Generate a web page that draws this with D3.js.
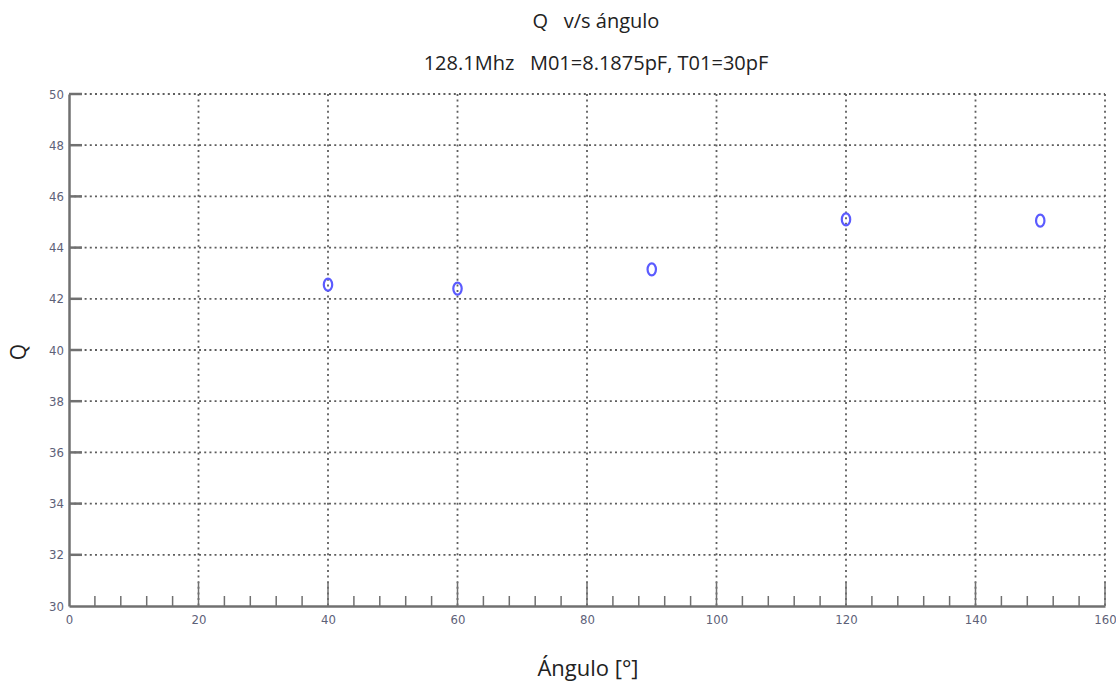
<!DOCTYPE html>
<html>
<head>
<meta charset="utf-8">
<script src="https://cdn.jsdelivr.net/npm/d3@7"></script>
<style>
  body { margin: 0; background: #fff; }
  svg { display: block; }
</style>
</head>
<body>
<div id="chart"></div>
<script>
// Q measured at each angle
var angles = [40, 60, 90, 120, 150];
var qValues = [42.55, 42.4, 43.15, 45.1, 45.05];

var xTicks = [0, 20, 40, 60, 80, 100, 120, 140, 160];
var yTicks = [30, 32, 34, 36, 38, 40, 42, 44, 46, 48, 50];
var xMinor = d3.range(0, 161, 4);

var svgWidth = 1116, svgHeight = 683;
var margin = {top: 94, right: 11, bottom: 77, left: 69};

var svg = d3.select("#chart").append("svg")
  .attr("width", svgWidth)
  .attr("height", svgHeight);

var xscale = d3.scaleLinear()
  .domain([0, 160])
  .range([margin.left, svgWidth - margin.right]);
var yscale = d3.scaleLinear()
  .domain([30, 50])
  .range([svgHeight - margin.bottom, margin.top]);

var x0 = xscale(0), y0 = yscale(30);
var gridColor = "#5e5e5e";
var tickFont = "'DejaVu Sans Condensed', 'Liberation Sans Narrow', sans-serif";

// dotted grid
svg.append("g").selectAll("line")
  .data(yTicks.slice(1))
  .enter().append("line")
  .attr("x1", x0).attr("x2", xscale(160))
  .attr("y1", d => yscale(d)).attr("y2", d => yscale(d))
  .attr("stroke", gridColor).attr("stroke-width", 1.8)
  .attr("stroke-dasharray", "2,3.2");
svg.append("g").selectAll("line")
  .data(xTicks.slice(1))
  .enter().append("line")
  .attr("x1", d => xscale(d)).attr("x2", d => xscale(d))
  .attr("y1", yscale(50)).attr("y2", y0)
  .attr("stroke", gridColor).attr("stroke-width", 1.8)
  .attr("stroke-dasharray", "2,3.6");

// bottom axis: minor + major ticks pointing up
var xAxis = d3.axisBottom(xscale).tickValues(xTicks).tickSize(0).tickPadding(9);
var gx = svg.append("g")
  .attr("transform", "translate(0," + y0 + ")")
  .call(xAxis);
gx.select(".domain").attr("stroke", "#707070").attr("stroke-width", 2.5);
gx.selectAll("text")
  .attr("fill", "#5d6178")
  .style("font-family", tickFont)
  .style("font-size", "13px");

svg.append("g").selectAll("line")
  .data(xMinor.filter(d => d % 20 !== 0))
  .enter().append("line")
  .attr("x1", d => xscale(d)).attr("x2", d => xscale(d))
  .attr("y1", y0).attr("y2", y0 - 10)
  .attr("stroke", "#707070").attr("stroke-width", 1.5);
svg.append("g").selectAll("line")
  .data(xTicks.slice(1))
  .enter().append("line")
  .attr("x1", d => xscale(d)).attr("x2", d => xscale(d))
  .attr("y1", y0).attr("y2", y0 - 24)
  .attr("stroke", "#707070").attr("stroke-width", 1.5);

// left axis
var yAxis = d3.axisLeft(yscale).tickValues(yTicks).tickSize(0).tickPadding(5);
var gy = svg.append("g")
  .attr("transform", "translate(" + x0 + ",0)")
  .call(yAxis);
gy.select(".domain").attr("stroke", "#707070").attr("stroke-width", 2.5);
gy.selectAll("text")
  .attr("fill", "#5d6178")
  .style("font-family", tickFont)
  .style("font-size", "13px");
svg.append("g").selectAll("line")
  .data(yTicks.slice(1))
  .enter().append("line")
  .attr("x1", x0).attr("x2", x0 + 13)
  .attr("y1", d => yscale(d)).attr("y2", d => yscale(d))
  .attr("stroke", "#707070").attr("stroke-width", 2.5);

// markers
svg.append("g").selectAll("ellipse")
  .data(angles.map((a, i) => [a, qValues[i]]))
  .enter().append("ellipse")
  .attr("cx", d => xscale(d[0]))
  .attr("cy", d => yscale(d[1]))
  .attr("rx", 4.2)
  .attr("ry", 6)
  .attr("fill", "none")
  .attr("stroke", "#5b5bff")
  .attr("stroke-width", 2.2);

// titles
var font = "'Open Sans', 'Noto Sans', sans-serif";
svg.append("text")
  .attr("x", 596).attr("y", 28)
  .attr("text-anchor", "middle")
  .style("font-family", font).style("font-size", "20px")
  .attr("fill", "#222")
  .attr("xml:space", "preserve")
  .text("Q   v/s ángulo");
svg.append("text")
  .attr("x", 596).attr("y", 70)
  .attr("text-anchor", "middle")
  .style("font-family", font).style("font-size", "20px")
  .attr("fill", "#222")
  .attr("xml:space", "preserve")
  .text("128.1Mhz   M01=8.1875pF, T01=30pF");

svg.append("text")
  .attr("x", 588).attr("y", 676)
  .attr("text-anchor", "middle")
  .style("font-family", font).style("font-size", "22px")
  .attr("fill", "#222")
  .text("Ángulo [°]");

svg.append("text")
  .attr("transform", "translate(26,352) rotate(-90)")
  .attr("text-anchor", "middle")
  .style("font-family", font).style("font-size", "21px")
  .attr("fill", "#222")
  .text("Q");
</script>
</body>
</html>
